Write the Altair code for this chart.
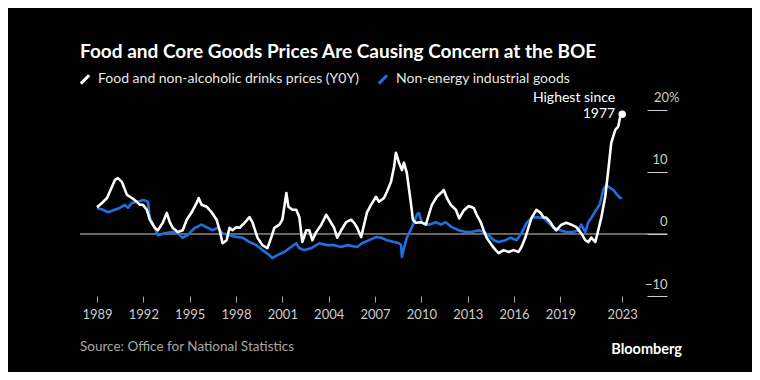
import altair as alt
import pandas as pd

FOOD = "Food and non-alcoholic drinks prices (Y0Y)"
NEIG = "Non-energy industrial goods"

food_year = [1989.0, 1989.32, 1989.65, 1989.97, 1990.16, 1990.35, 1990.61, 1990.94, 1991.26, 1991.58,
             1991.77, 1991.97, 1992.23, 1992.42, 1992.74, 1992.94, 1993.26, 1993.52, 1993.71, 1993.9,
             1994.23, 1994.55, 1994.81, 1995.13, 1995.45, 1995.58, 1995.77, 1996.1, 1996.42, 1996.74,
             1996.94, 1997.13, 1997.39, 1997.58, 1997.77, 1998.03, 1998.23, 1998.55, 1998.87, 1999.06,
             1999.39, 1999.71, 2000.03, 2000.29, 2000.48, 2000.81, 2001.0, 2001.26, 2001.39, 2001.65,
             2001.9, 2002.1, 2002.29, 2002.55, 2002.74, 2002.94, 2003.19, 2003.52, 2003.84, 2004.03,
             2004.35, 2004.55, 2004.81, 2005.13, 2005.45, 2005.65, 2005.84, 2006.1, 2006.29, 2006.48,
             2006.74, 2007.06, 2007.26, 2007.58, 2007.77, 2008.03, 2008.23, 2008.35, 2008.55, 2008.74,
             2008.87, 2009.06, 2009.32, 2009.45, 2009.65, 2009.97, 2010.29, 2010.48, 2010.68, 2011.0,
             2011.26, 2011.45, 2011.65, 2011.9, 2012.23, 2012.45, 2012.74, 2013.06, 2013.39, 2013.58,
             2013.84, 2014.03, 2014.23, 2014.55, 2014.81, 2015.0, 2015.32, 2015.65, 2015.97, 2016.29,
             2016.48, 2016.74, 2016.94, 2017.13, 2017.45, 2017.71, 2017.9, 2018.1, 2018.35, 2018.55,
             2018.74, 2019.06, 2019.39, 2019.71, 2020.03, 2020.35, 2020.61, 2020.81, 2021.0, 2021.26,
             2021.45, 2021.65, 2021.9, 2022.1, 2022.29, 2022.55, 2022.74, 2022.87, 2023.0]
food_value = [4.3, 5.0, 5.8, 7.6, 8.7, 9.0, 8.4, 6.3, 5.8, 5.2,
              4.7, 4.7, 3.9, 2.3, 1.0, 0.6, 1.8, 3.4, 1.9, 1.0,
              0.3, 0.6, 2.3, 3.5, 5.0, 5.8, 4.7, 4.4, 3.5, 2.3,
              0.6, -1.5, -1.0, 1.0, 0.6, 1.1, 1.0, 1.8, 2.7, 1.9,
              -0.6, -1.8, -2.3, -0.5, 1.0, 1.5, 2.3, 6.6, 4.4, 3.9,
              3.9, 2.7, -1.3, 0.6, 0.6, -1.0, 0.3, 1.5, 3.1, 2.3,
              1.0, -0.6, 0.6, 1.9, 2.3, 1.8, 1.0, -0.5, 1.5, 3.5,
              4.7, 6.0, 5.2, 5.8, 6.8, 8.4, 10.8, 13.1, 11.5, 10.3,
              11.5, 9.8, 5.0, 2.3, 1.8, 1.9, 1.5, 3.1, 4.7, 6.0,
              6.6, 7.1, 5.8, 4.7, 3.9, 2.5, 3.8, 4.5, 4.2, 3.1,
              1.9, 0.6, -0.6, -1.8, -2.6, -3.1, -2.6, -2.9, -2.6, -2.9,
              -2.1, -0.5, 1.1, 2.6, 3.9, 3.4, 2.7, 2.6, 1.9, 1.1,
              0.6, 1.5, 1.8, 1.5, 1.1, 0.1, -1.0, -1.3, -0.6, -1.3,
              0.6, 2.7, 6.0, 10.3, 14.7, 16.8, 17.3, 18.9, 19.3]

neig_year = [1989.0, 1989.39, 1989.71, 1990.16, 1990.48, 1990.81, 1991.0, 1991.26, 1991.65, 1992.0,
             1992.3, 1992.42, 1992.74, 1992.94, 1993.39, 1993.84, 1994.23, 1994.55, 1994.87, 1995.32,
             1995.45, 1995.77, 1996.16, 1996.48, 1996.81, 1997.13, 1997.58, 1998.03, 1998.42, 1998.87,
             1999.32, 1999.71, 2000.16, 2000.35, 2000.68, 2001.13, 2001.45, 2001.9, 2002.1, 2002.42,
             2002.87, 2003.39, 2003.9, 2004.35, 2004.81, 2005.19, 2005.84, 2006.16, 2006.61, 2007.06,
             2007.39, 2007.77, 2008.23, 2008.55, 2008.68, 2008.74, 2008.87, 2009.06, 2009.39, 2009.71,
             2009.84, 2010.03, 2010.48, 2010.94, 2011.26, 2011.58, 2011.97, 2012.42, 2012.87, 2013.26,
             2013.71, 2014.03, 2014.35, 2014.68, 2015.0, 2015.45, 2015.77, 2016.16, 2016.48, 2016.81,
             2017.13, 2017.45, 2017.9, 2018.23, 2018.55, 2019.0, 2019.39, 2019.84, 2020.16, 2020.35,
             2020.61, 2020.81, 2021.0, 2021.32, 2021.55, 2021.77, 2021.97, 2022.23, 2022.42, 2022.68,
             2022.87, 2023.0]
neig_value = [4.2, 3.9, 3.5, 3.9, 4.2, 4.7, 4.2, 5.0, 5.2, 5.5,
              5.2, 2.6, 1.0, -0.2, 0.1, 0.3, 0.1, -0.6, -0.2, 1.0,
              1.1, 1.5, 1.0, 0.6, 1.0, 0.1, -0.2, -0.5, -0.6, -1.3,
              -1.8, -2.6, -3.4, -3.9, -3.4, -2.9, -2.3, -1.5, -2.3, -2.6,
              -2.3, -1.5, -1.8, -1.8, -2.1, -1.8, -2.1, -1.5, -1.0, -0.5,
              -0.6, -1.0, -1.3, -1.5, -1.8, -3.7, -2.3, -0.6, 1.1, 3.1,
              3.4, 1.8, 1.5, 1.9, 1.5, 1.9, 1.1, 0.6, 0.3, 0.3,
              0.6, 0.3, -0.2, -1.0, -1.3, -1.0, -0.6, -1.0, 0.1, 1.8,
              2.6, 2.7, 2.6, 1.8, 1.0, 0.6, 0.3, 0.3, 0.6, 1.5,
              0.3, 1.9, 2.6, 3.9, 4.8, 7.1, 7.9, 7.4, 7.1, 6.3,
              5.8, 5.8]

x_ticks = [1989, 1992, 1995, 1998, 2001, 2004, 2007, 2010, 2013, 2016, 2019, 2023]
y_ticks = [-10, 0, 10, 20]

food_df = pd.DataFrame({"year": food_year, "value": food_value, "series": FOOD})
neig_df = pd.DataFrame({"year": neig_year, "value": neig_value, "series": NEIG})

FONT = "Lato"

xscale = alt.Scale(domain=[1987.9, 2025.9], nice=False, zero=False)
yscale = alt.Scale(domain=[-10, 21.6], nice=False, zero=False)
color = alt.Color(
    "series:N",
    scale=alt.Scale(domain=[FOOD, NEIG], range=["#ffffff", "#1f6fe0"]),
    legend=alt.Legend(
        title=None, orient="none", legendX=-2, legendY=-28, direction="horizontal",
        symbolType="M-1,1L1,-1", symbolStrokeWidth=3, symbolSize=70,
        labelFont=FONT, labelFontSize=14, labelColor="#e6e6e6", labelLimit=400,
        columnPadding=12, labelOffset=6,
    ),
)

x_enc = alt.X(
    "year:Q", scale=xscale, title=None,
    axis=alt.Axis(values=x_ticks, format="d", grid=False, domain=False, tickSize=6,
                  tickColor="#aaaaaa", labelColor="#cccccc", labelFont=FONT,
                  labelFontSize=13, labelPadding=6),
)
y_enc = alt.Y(
    "value:Q", scale=yscale, title=None,
    axis=alt.Axis(values=y_ticks, orient="right", offset=-20, grid=False, domain=False,
                  tickSize=20, tickColor="#cccccc", labelColor="#cccccc", labelFont=FONT,
                  labelFontSize=13, labelAlign="right", labelBaseline="alphabetic",
                  labelOffset=-8,
                  labelPadding={"condition": {"test": "datum.value == 20", "value": 12}, "value": 0},
                  labelExpr="datum.value == 20 ? '20%' : datum.label"),
)

zero = alt.Chart(pd.DataFrame({"z": [0]})).mark_rule(color="#cccccc", strokeWidth=1).encode(
    y=alt.Y("z:Q", scale=yscale))

neig_line = alt.Chart(neig_df).mark_line(strokeWidth=2.6, strokeJoin="round").encode(
    x=x_enc, y=y_enc, color=color)
food_line = alt.Chart(food_df).mark_line(strokeWidth=2.6, strokeJoin="round").encode(
    x=alt.X("year:Q", scale=xscale), y=alt.Y("value:Q", scale=yscale), color=color)

last = pd.DataFrame({"year": [food_year[-1]], "value": [food_value[-1]]})
dot = alt.Chart(last).mark_circle(size=55, color="white", opacity=1).encode(
    x=alt.X("year:Q", scale=xscale), y=alt.Y("value:Q", scale=yscale))
ann1 = alt.Chart(last).mark_text(text="Highest since", align="right", baseline="middle",
                                 dx=-7, dy=-16, font=FONT, fontSize=14, color="#ffffff").encode(
    x=alt.X("year:Q", scale=xscale), y=alt.Y("value:Q", scale=yscale))
ann2 = alt.Chart(last).mark_text(text="1977", align="right", baseline="middle",
                                 dx=-7, dy=0, font=FONT, fontSize=14, color="#ffffff").encode(
    x=alt.X("year:Q", scale=xscale), y=alt.Y("value:Q", scale=yscale))

source = alt.Chart(pd.DataFrame({"t": ["Source: Office for National Statistics"]})).mark_text(
    align="left", baseline="middle", font=FONT, fontSize=13.5, color="#a6a6a6").encode(
    text="t:N", x=alt.value(0), y=alt.value(247))
logo = alt.Chart(pd.DataFrame({"t": ["Bloomberg"]})).mark_text(
    align="right", baseline="middle", font=FONT, fontSize=14.5, fontWeight="bold",
    color="#ffffff").encode(text="t:N", x=alt.value(602), y=alt.value(250))

chart = alt.layer(zero, neig_line, food_line, dot, ann1, ann2, source, logo).properties(
    width=587, height=196,
    autosize=alt.AutoSizeParams(type="none"),
    padding={"left": 72, "top": 92, "right": 85, "bottom": 76},
    background="#000000",
    title=alt.TitleParams(
        "Food and Core Goods Prices Are Causing Concern at the BOE",
        anchor="start", frame="group", font=FONT, fontSize=19, fontWeight="bold",
        color="#ffffff", offset=10,
    ),
).configure_view(stroke=None)

chart.save("out.html", embed_options={"renderer": "svg", "actions": False})
